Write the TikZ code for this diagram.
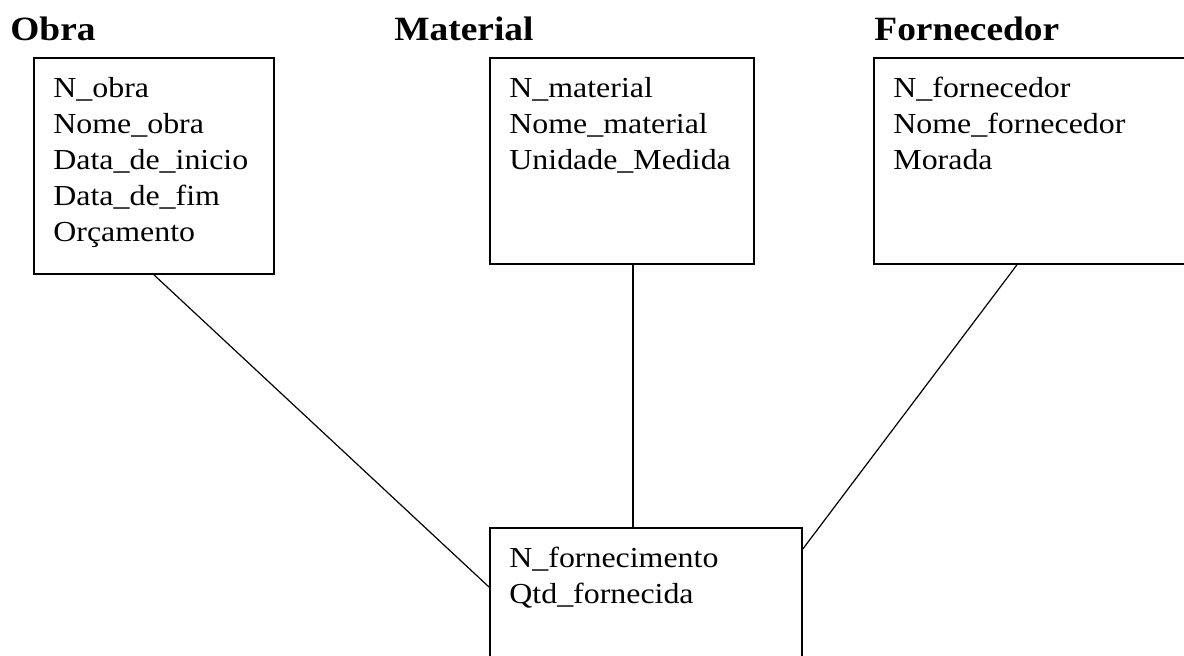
\documentclass[tikz,border=0pt]{standalone}
\usepackage{fontspec}
\setmainfont[FakeStretch=1.1]{Liberation Serif}
\usetikzlibrary{positioning}

\begin{document}
\begin{tikzpicture}[x=0.5pt, y=-0.5pt,
  entity/.style={draw, line width=0.9pt, anchor=north west, inner sep=0pt},
  attrs/.style={anchor=north west, align=left, inner sep=0pt, font=\fontsize{14.5}{18}\selectfont},
  title/.style={anchor=base west, inner sep=0pt, font=\bfseries\fontsize{17}{20}\selectfont},
  link/.style={line width=0.6pt}]
\useasboundingbox (0,0) rectangle (1184,655);
% entity boxes
\node[entity, minimum width=120pt, minimum height=108pt] (obra) at (33,57) {};
\node[entity, minimum width=132pt, minimum height=103pt] (material) at (489,57) {};
\node[entity, minimum width=160pt, minimum height=103pt] (fornecedor) at (873,57) {};
\node[entity, minimum width=156pt, minimum height=75pt] (fornec) at (489,527) {};
% titles
\node[title] (tobra) at (10,40) {Obra};
\node[title] (tmaterial) at (394,40) {Material};
\node[title] (tfornecedor) at (874,40) {Fornecedor};
% attributes
\node[attrs] (aobra) at ([xshift=10pt, yshift=-10pt]obra.north west) {N\_obra\\Nome\_obra\\Data\_de\_inicio\\Data\_de\_fim\\Orçamento};
\node[attrs] (amaterial) at ([xshift=10pt, yshift=-10pt]material.north west) {N\_material\\Nome\_material\\Unidade\_Medida};
\node[attrs] (afornecedor) at ([xshift=10pt, yshift=-10pt]fornecedor.north west) {N\_fornecedor\\Nome\_fornecedor\\Morada};
\node[attrs] (afornec) at ([xshift=10pt, yshift=-10pt]fornec.north west) {N\_fornecimento\\Qtd\_fornecida};
% links
\draw[link] (obra.south) -- ([yshift=-30pt]fornec.north west);
\draw[link] ([xshift=72pt]material.south west) -- ([xshift=72pt]fornec.north west);
\draw[link] ([xshift=72pt]fornecedor.south west) -- ([yshift=-11pt]fornec.north east);
\end{tikzpicture}
\end{document}
